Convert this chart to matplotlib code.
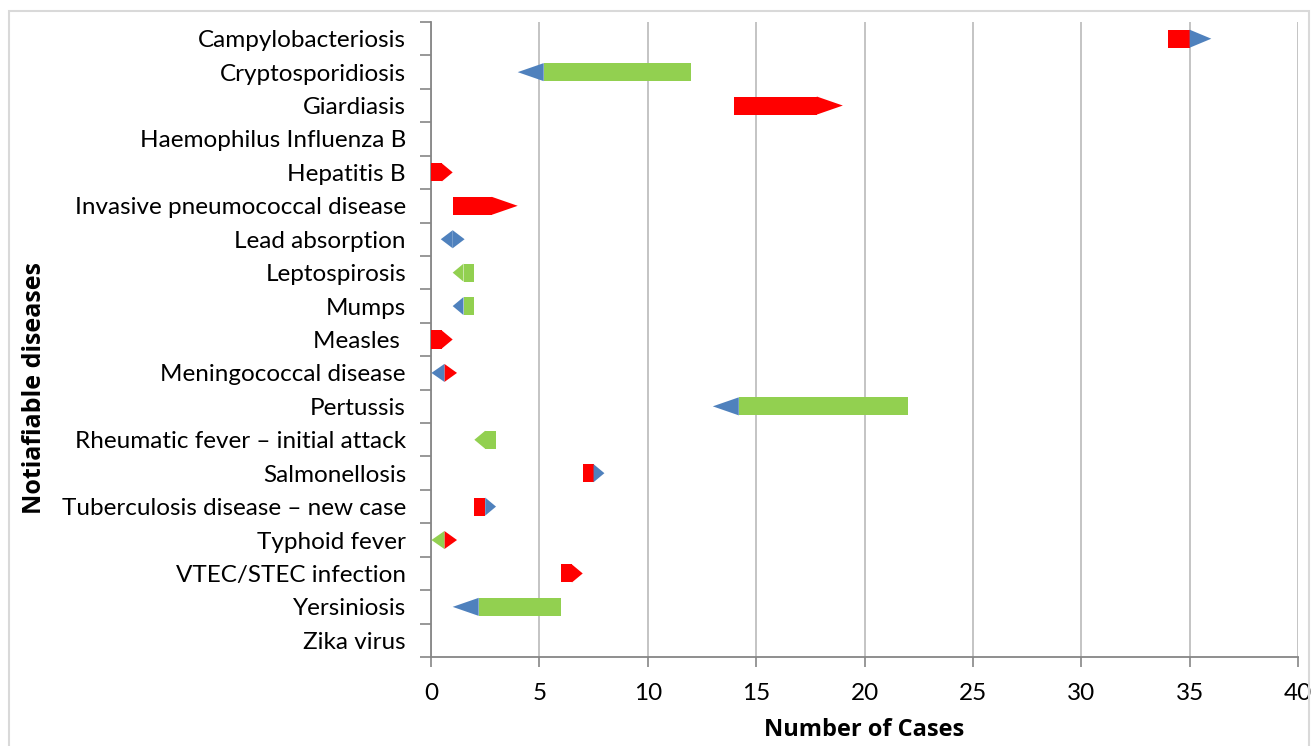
import matplotlib
matplotlib.use('Agg')
import matplotlib.pyplot as plt
from matplotlib.patches import Polygon, Rectangle

plt.rcParams['font.family'] = ['Lato', 'DejaVu Sans']

RED = '#FF0000'
GREEN = '#92D050'
BLUE = '#4F81BD'

diseases = ['Campylobacteriosis', 'Cryptosporidiosis', 'Giardiasis',
            'Haemophilus Influenza B', 'Hepatitis B',
            'Invasive pneumococcal disease', 'Lead absorption',
            'Leptospirosis', 'Mumps', 'Measles ', 'Meningococcal disease',
            'Pertussis', 'Rheumatic fever \u2013 initial attack',
            'Salmonellosis', 'Tuberculosis disease \u2013 new case',
            'Typhoid fever', 'VTEC/STEC infection', 'Yersiniosis', 'Zika virus']

# body of each arrow (start, end, colour); None = no body
bar_start = [34, 5.2, 14, None, 0, 1, None, 1.5, 1.5, 0, None, 14.2, 2.5, 7, 2, None, 6, 2.2, None]
bar_end = [35, 12, 17.8, None, 0.5, 2.8, None, 2, 2, 0.5, None, 22, 3, 7.5, 2.5, None, 6.5, 6, None]
bar_color = [RED, GREEN, RED, None, RED, RED, None, GREEN, GREEN, RED, None, GREEN, GREEN, RED, RED, None, RED, GREEN, None]

# arrow heads (base, tip, colour); tip < base points left
head_base = [35, 5.2, 17.8, None, 0.5, 2.8, 1.0, 1.5, 1.5, 0.5, 0.62, 14.2, 2.5, 7.5, 2.5, 0.62, 6.5, 2.2, None]
head_tip = [36, 4.0, 19, None, 1.0, 4.0, 1.55, 1.0, 1.0, 1.0, 1.2, 13.0, 2.0, 8.0, 3.0, 1.2, 7.0, 1.0, None]
head_color = [BLUE, BLUE, RED, None, RED, RED, BLUE, GREEN, BLUE, RED, RED, BLUE, GREEN, BLUE, BLUE, RED, RED, BLUE, None]

# second (backward) heads for the diamond-like markers
tail_base = [None] * 6 + [1.0] + [None] * 3 + [0.62] + [None] * 4 + [0.62] + [None] * 3
tail_tip = [None] * 6 + [0.45] + [None] * 3 + [0.02] + [None] * 4 + [0.02] + [None] * 3
tail_color = [None] * 6 + [BLUE] + [None] * 3 + [BLUE] + [None] * 4 + [GREEN] + [None] * 3

xticks = [0, 5, 10, 15, 20, 25, 30, 35, 40]

fig = plt.figure(figsize=(13.14, 7.46), dpi=100)
ax = fig.add_axes([431 / 1314, 1 - 657 / 746, (1298 - 431) / 1314, (657 - 22) / 746])

h = 0.54
ypos = list(range(len(diseases)))


def tri(base, tip, y, color):
    ax.add_patch(Polygon([(base, y - h / 2), (tip, y), (base, y + h / 2)],
                         closed=True, facecolor=color, edgecolor='none', zorder=3))


for i, y in enumerate(ypos):
    if bar_color[i] is not None:
        ax.barh(y, bar_end[i] - bar_start[i], left=bar_start[i], height=h,
                color=bar_color[i], edgecolor='none', zorder=3)
    if head_color[i] is not None:
        tri(head_base[i], head_tip[i], y, head_color[i])
    if tail_color[i] is not None:
        tri(tail_base[i], tail_tip[i], y, tail_color[i])

ax.set_xlim(0, 40)
ax.set_ylim(len(diseases) - 0.5, -0.5)
ax.set_xticks(xticks)
ax.set_xticklabels([str(t) for t in xticks], fontsize=17.5)
ax.set_yticks(ypos)
ax.set_yticklabels(diseases, fontsize=17.5)
ax.set_yticks([i - 0.5 for i in range(len(diseases) + 1)], minor=True)
ax.tick_params(axis='y', which='major', length=0, pad=18, colors='black')
ax.tick_params(axis='y', which='minor', length=8, width=1.2, color='#868686')
ax.tick_params(axis='x', which='major', length=7, width=1.2, color='#868686', pad=12)

ax.grid(axis='x', color='#BFBFBF', linewidth=1.3, zorder=0)
ax.set_axisbelow(True)
for s in ['top', 'right']:
    ax.spines[s].set_visible(False)
for s in ['left', 'bottom']:
    ax.spines[s].set_color('#868686')
    ax.spines[s].set_linewidth(1.3)

ax.set_xlabel('Number of Cases', fontsize=17, fontweight='bold', labelpad=10,
              family=['Open Sans', 'DejaVu Sans'])
fig.text(35 / 1314, 1 - 388 / 746, 'Notiafiable diseases', rotation=90,
         fontsize=18, fontweight='bold', ha='center', va='center',
         family=['Open Sans', 'DejaVu Sans'])

fig.add_artist(Rectangle((9 / 1314, -0.02), 1300 / 1314, 1.0 - 11 / 746 + 0.02,
                         transform=fig.transFigure, fill=False,
                         edgecolor='#D9D9D9', linewidth=1.5))

fig.savefig('out.png', dpi=100)
